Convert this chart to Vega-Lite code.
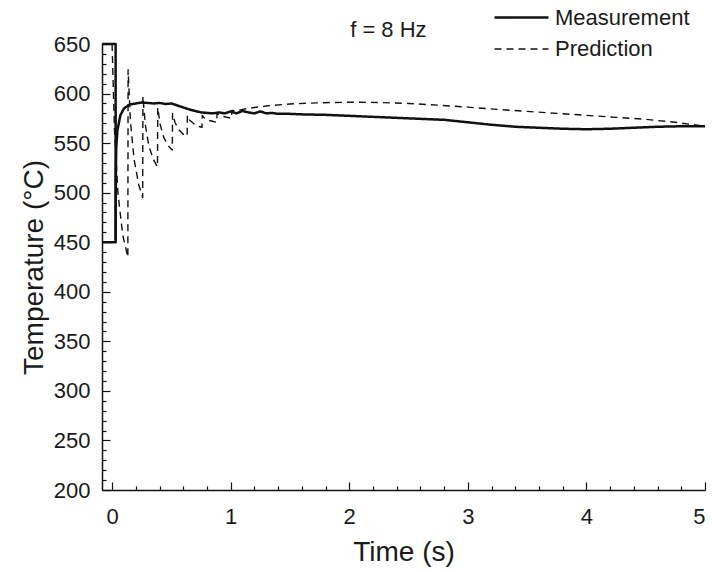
{
  "$schema": "https://vega.github.io/schema/vega-lite/v6.json",
  "width": 603,
  "height": 446,
  "autosize": {"type": "none"},
  "padding": {"left": 102, "top": 44, "right": 7, "bottom": 82},
  "background": "white",
  "config": {
    "view": {"stroke": null},
    "font": "Liberation Sans",
    "axis": {"grid": false, "domainColor": "#111", "domainWidth": 1.5, "tickColor": "#111", "tickWidth": 1.2, "labelFont": "Liberation Sans", "labelFontSize": 22, "labelColor": "#1a1a1a", "titleFont": "Liberation Sans", "titleFontSize": 28, "titleFontWeight": "normal", "titleColor": "#1a1a1a"}
  },
  "datasets": {
    "curves": [
      {"i": 1, "seg": "M1", "series": "Measurement", "t": -0.085, "T": 650},
      {"i": 2, "seg": "M1", "series": "Measurement", "t": 0.03, "T": 650},
      {"i": 3, "seg": "M1", "series": "Measurement", "t": 0.03, "T": 450},
      {"i": 4, "seg": "M1", "series": "Measurement", "t": -0.085, "T": 450},
      {"i": 5, "seg": "M2", "series": "Measurement", "t": 0.03, "T": 452},
      {"i": 6, "seg": "M2", "series": "Measurement", "t": 0.032, "T": 520},
      {"i": 7, "seg": "M2", "series": "Measurement", "t": 0.035, "T": 545},
      {"i": 8, "seg": "M2", "series": "Measurement", "t": 0.045, "T": 563},
      {"i": 9, "seg": "M2", "series": "Measurement", "t": 0.07, "T": 578},
      {"i": 10, "seg": "M2", "series": "Measurement", "t": 0.1, "T": 585},
      {"i": 11, "seg": "M2", "series": "Measurement", "t": 0.15, "T": 589},
      {"i": 12, "seg": "M2", "series": "Measurement", "t": 0.2, "T": 590},
      {"i": 13, "seg": "M2", "series": "Measurement", "t": 0.25, "T": 591},
      {"i": 14, "seg": "M2", "series": "Measurement", "t": 0.3, "T": 590.5},
      {"i": 15, "seg": "M2", "series": "Measurement", "t": 0.35, "T": 590},
      {"i": 16, "seg": "M2", "series": "Measurement", "t": 0.4, "T": 590.5},
      {"i": 17, "seg": "M2", "series": "Measurement", "t": 0.45, "T": 589.5},
      {"i": 18, "seg": "M2", "series": "Measurement", "t": 0.5, "T": 590},
      {"i": 19, "seg": "M2", "series": "Measurement", "t": 0.55, "T": 588},
      {"i": 20, "seg": "M2", "series": "Measurement", "t": 0.6, "T": 586},
      {"i": 21, "seg": "M2", "series": "Measurement", "t": 0.65, "T": 584},
      {"i": 22, "seg": "M2", "series": "Measurement", "t": 0.7, "T": 582.5},
      {"i": 23, "seg": "M2", "series": "Measurement", "t": 0.75, "T": 581},
      {"i": 24, "seg": "M2", "series": "Measurement", "t": 0.8, "T": 580.5},
      {"i": 25, "seg": "M2", "series": "Measurement", "t": 0.85, "T": 580},
      {"i": 26, "seg": "M2", "series": "Measurement", "t": 0.9, "T": 581},
      {"i": 27, "seg": "M2", "series": "Measurement", "t": 0.95, "T": 580},
      {"i": 28, "seg": "M2", "series": "Measurement", "t": 1.0, "T": 582},
      {"i": 29, "seg": "M2", "series": "Measurement", "t": 1.05, "T": 580},
      {"i": 30, "seg": "M2", "series": "Measurement", "t": 1.1, "T": 582.5},
      {"i": 31, "seg": "M2", "series": "Measurement", "t": 1.15, "T": 581},
      {"i": 32, "seg": "M2", "series": "Measurement", "t": 1.2, "T": 580},
      {"i": 33, "seg": "M2", "series": "Measurement", "t": 1.25, "T": 582},
      {"i": 34, "seg": "M2", "series": "Measurement", "t": 1.3, "T": 580},
      {"i": 35, "seg": "M2", "series": "Measurement", "t": 1.35, "T": 580.5},
      {"i": 36, "seg": "M2", "series": "Measurement", "t": 1.4, "T": 579.5},
      {"i": 37, "seg": "M2", "series": "Measurement", "t": 1.5, "T": 579.5},
      {"i": 38, "seg": "M2", "series": "Measurement", "t": 1.6, "T": 579},
      {"i": 39, "seg": "M2", "series": "Measurement", "t": 1.8, "T": 578.5},
      {"i": 40, "seg": "M2", "series": "Measurement", "t": 2.0, "T": 577.5},
      {"i": 41, "seg": "M2", "series": "Measurement", "t": 2.2, "T": 576.5},
      {"i": 42, "seg": "M2", "series": "Measurement", "t": 2.4, "T": 575.5},
      {"i": 43, "seg": "M2", "series": "Measurement", "t": 2.6, "T": 574.5},
      {"i": 44, "seg": "M2", "series": "Measurement", "t": 2.8, "T": 573.5},
      {"i": 45, "seg": "M2", "series": "Measurement", "t": 3.0, "T": 571},
      {"i": 46, "seg": "M2", "series": "Measurement", "t": 3.2, "T": 568.5},
      {"i": 47, "seg": "M2", "series": "Measurement", "t": 3.4, "T": 566.5},
      {"i": 48, "seg": "M2", "series": "Measurement", "t": 3.6, "T": 565.5},
      {"i": 49, "seg": "M2", "series": "Measurement", "t": 3.8, "T": 564.5},
      {"i": 50, "seg": "M2", "series": "Measurement", "t": 4.0, "T": 564},
      {"i": 51, "seg": "M2", "series": "Measurement", "t": 4.2, "T": 564.5},
      {"i": 52, "seg": "M2", "series": "Measurement", "t": 4.4, "T": 565.5},
      {"i": 53, "seg": "M2", "series": "Measurement", "t": 4.6, "T": 566.5},
      {"i": 54, "seg": "M2", "series": "Measurement", "t": 4.8, "T": 567},
      {"i": 55, "seg": "M2", "series": "Measurement", "t": 5.0, "T": 567},
      {"i": 101, "seg": "P", "series": "Prediction", "t": 0.0, "T": 650},
      {"i": 102, "seg": "P", "series": "Prediction", "t": 0.02, "T": 564},
      {"i": 103, "seg": "P", "series": "Prediction", "t": 0.05, "T": 499},
      {"i": 104, "seg": "P", "series": "Prediction", "t": 0.09, "T": 457},
      {"i": 105, "seg": "P", "series": "Prediction", "t": 0.133, "T": 435},
      {"i": 106, "seg": "P", "series": "Prediction", "t": 0.135, "T": 624},
      {"i": 107, "seg": "P", "series": "Prediction", "t": 0.155, "T": 572},
      {"i": 108, "seg": "P", "series": "Prediction", "t": 0.185, "T": 534},
      {"i": 109, "seg": "P", "series": "Prediction", "t": 0.225, "T": 508},
      {"i": 110, "seg": "P", "series": "Prediction", "t": 0.258, "T": 495},
      {"i": 111, "seg": "P", "series": "Prediction", "t": 0.26, "T": 597},
      {"i": 112, "seg": "P", "series": "Prediction", "t": 0.28, "T": 569},
      {"i": 113, "seg": "P", "series": "Prediction", "t": 0.31, "T": 547},
      {"i": 114, "seg": "P", "series": "Prediction", "t": 0.35, "T": 533},
      {"i": 115, "seg": "P", "series": "Prediction", "t": 0.383, "T": 526},
      {"i": 116, "seg": "P", "series": "Prediction", "t": 0.385, "T": 586},
      {"i": 117, "seg": "P", "series": "Prediction", "t": 0.405, "T": 569},
      {"i": 118, "seg": "P", "series": "Prediction", "t": 0.435, "T": 556},
      {"i": 119, "seg": "P", "series": "Prediction", "t": 0.475, "T": 547},
      {"i": 120, "seg": "P", "series": "Prediction", "t": 0.508, "T": 543},
      {"i": 121, "seg": "P", "series": "Prediction", "t": 0.51, "T": 580},
      {"i": 122, "seg": "P", "series": "Prediction", "t": 0.53, "T": 571},
      {"i": 123, "seg": "P", "series": "Prediction", "t": 0.56, "T": 564},
      {"i": 124, "seg": "P", "series": "Prediction", "t": 0.6, "T": 559},
      {"i": 125, "seg": "P", "series": "Prediction", "t": 0.633, "T": 557},
      {"i": 126, "seg": "P", "series": "Prediction", "t": 0.635, "T": 578},
      {"i": 127, "seg": "P", "series": "Prediction", "t": 0.655, "T": 573},
      {"i": 128, "seg": "P", "series": "Prediction", "t": 0.685, "T": 570},
      {"i": 129, "seg": "P", "series": "Prediction", "t": 0.725, "T": 567},
      {"i": 130, "seg": "P", "series": "Prediction", "t": 0.758, "T": 566},
      {"i": 131, "seg": "P", "series": "Prediction", "t": 0.76, "T": 578},
      {"i": 132, "seg": "P", "series": "Prediction", "t": 0.78, "T": 575},
      {"i": 133, "seg": "P", "series": "Prediction", "t": 0.81, "T": 573},
      {"i": 134, "seg": "P", "series": "Prediction", "t": 0.85, "T": 572},
      {"i": 135, "seg": "P", "series": "Prediction", "t": 0.883, "T": 571},
      {"i": 136, "seg": "P", "series": "Prediction", "t": 0.885, "T": 580},
      {"i": 137, "seg": "P", "series": "Prediction", "t": 0.905, "T": 578},
      {"i": 138, "seg": "P", "series": "Prediction", "t": 0.935, "T": 577},
      {"i": 139, "seg": "P", "series": "Prediction", "t": 1.008, "T": 575},
      {"i": 140, "seg": "P", "series": "Prediction", "t": 1.01, "T": 583},
      {"i": 141, "seg": "P", "series": "Prediction", "t": 1.05, "T": 582.5},
      {"i": 142, "seg": "P", "series": "Prediction", "t": 1.1, "T": 584},
      {"i": 143, "seg": "P", "series": "Prediction", "t": 1.2, "T": 586},
      {"i": 144, "seg": "P", "series": "Prediction", "t": 1.3, "T": 587.5},
      {"i": 145, "seg": "P", "series": "Prediction", "t": 1.5, "T": 589.5},
      {"i": 146, "seg": "P", "series": "Prediction", "t": 1.75, "T": 590.7},
      {"i": 147, "seg": "P", "series": "Prediction", "t": 2.0, "T": 591.3},
      {"i": 148, "seg": "P", "series": "Prediction", "t": 2.25, "T": 591},
      {"i": 149, "seg": "P", "series": "Prediction", "t": 2.5, "T": 590},
      {"i": 150, "seg": "P", "series": "Prediction", "t": 2.75, "T": 588.3},
      {"i": 151, "seg": "P", "series": "Prediction", "t": 3.0, "T": 586.3},
      {"i": 152, "seg": "P", "series": "Prediction", "t": 3.25, "T": 584},
      {"i": 153, "seg": "P", "series": "Prediction", "t": 3.5, "T": 582},
      {"i": 154, "seg": "P", "series": "Prediction", "t": 3.75, "T": 580},
      {"i": 155, "seg": "P", "series": "Prediction", "t": 4.0, "T": 578},
      {"i": 156, "seg": "P", "series": "Prediction", "t": 4.25, "T": 576},
      {"i": 157, "seg": "P", "series": "Prediction", "t": 4.5, "T": 574},
      {"i": 158, "seg": "P", "series": "Prediction", "t": 4.75, "T": 571},
      {"i": 159, "seg": "P", "series": "Prediction", "t": 5.0, "T": 567}
    ],
    "notes": [
      {"note": "f = 8 Hz", "t": 2.33, "T": 664}
    ]
  },
  "resolve": {"axis": {"x": "independent", "y": "independent"}},
  "layer": [
    {
      "data": {"name": "curves"},
      "mark": {"type": "point", "opacity": 0},
      "encoding": {
        "x": {"field": "t", "type": "quantitative", "scale": {"domain": [-0.085, 5.0], "nice": false, "zero": false},
          "axis": {"orient": "bottom", "values": [0.2, 0.4, 0.6, 0.8, 1.2, 1.4, 1.6, 1.8, 2.2, 2.4, 2.6, 2.8, 3.2, 3.4, 3.6, 3.8, 4.2, 4.4, 4.6, 4.8], "labels": false, "domain": false, "tickSize": -4, "title": null}},
        "y": {"field": "T", "type": "quantitative", "scale": {"domain": [200, 650], "nice": false, "zero": false},
          "axis": {"orient": "left", "values": [210, 220, 230, 240, 260, 270, 280, 290, 310, 320, 330, 340, 360, 370, 380, 390, 410, 420, 430, 440, 460, 470, 480, 490, 510, 520, 530, 540, 560, 570, 580, 590, 610, 620, 630, 640], "labels": false, "domain": false, "tickSize": -4, "title": null}}
      }
    },
    {
      "data": {"name": "curves"},
      "mark": {"type": "line", "color": "#111", "strokeJoin": "round"},
      "encoding": {
        "x": {"field": "t", "type": "quantitative",
          "axis": {"orient": "bottom", "values": [0, 1, 2, 3, 4, 5], "tickSize": -8, "labelPadding": 24, "title": "Time (s)", "titlePadding": 11}},
        "y": {"field": "T", "type": "quantitative",
          "axis": {"orient": "left", "values": [200, 250, 300, 350, 400, 450, 500, 550, 600, 650], "tickSize": -8, "labelPadding": 20, "title": "Temperature (°C)", "titlePadding": 5}},
        "detail": {"field": "seg"},
        "order": {"field": "i", "type": "quantitative"},
        "strokeDash": {"field": "series", "type": "nominal",
          "scale": {"domain": ["Measurement", "Prediction"], "range": [[1, 0], [7, 5]]},
          "legend": {"title": null, "orient": "none", "legendX": 391, "legendY": -43, "symbolType": "M-1,0L2.6,0", "symbolSize": 900, "symbolStrokeWidth": 1.5, "symbolStrokeColor": "#111", "symbolFillColor": "transparent", "labelFontSize": 22, "labelFont": "Liberation Sans", "labelColor": "#1a1a1a", "labelOffset": 29, "rowPadding": 4}},
        "strokeWidth": {"field": "series", "type": "nominal", "scale": {"domain": ["Measurement", "Prediction"], "range": [2.5, 1.4]}, "legend": null}
      }
    },
    {
      "data": {"name": "notes"},
      "mark": {"type": "text", "fontSize": 22, "font": "Liberation Sans", "color": "#1a1a1a"},
      "encoding": {
        "x": {"field": "t", "type": "quantitative", "axis": null},
        "y": {"field": "T", "type": "quantitative", "axis": null},
        "text": {"field": "note"}
      }
    }
  ]
}
